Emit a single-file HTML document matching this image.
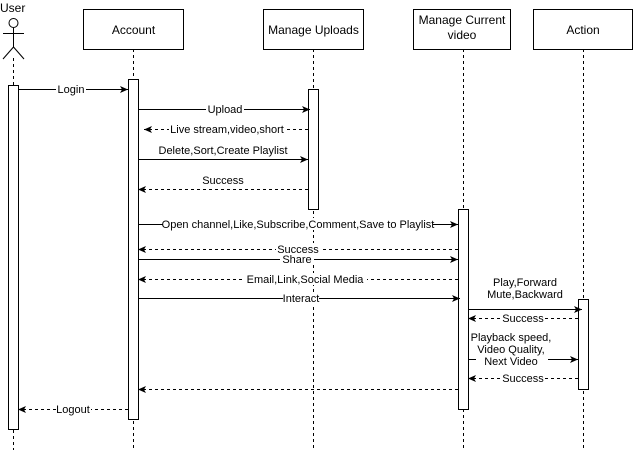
<!DOCTYPE html>
<html><head><meta charset="utf-8"><style>
html,body{margin:0;padding:0;background:#fff;}
svg{display:block;}
text{font-family:"Liberation Sans",Arial,sans-serif;fill:#000;}
.l{font-size:11px;}
.b{font-size:12px;}
</style></head><body>
<svg width="634" height="450" viewBox="0 0 634 450" xmlns="http://www.w3.org/2000/svg">
<defs>
<marker id="a" markerWidth="10" markerHeight="8" refX="8" refY="4" orient="auto" markerUnits="userSpaceOnUse">
<path d="M0,0.5 L8,4 L0,7.5 L2,4 z" fill="#000"/>
</marker>
</defs>
<g stroke="#000" stroke-dasharray="3,3" stroke-width="1">
<line x1="13.5" y1="58" x2="13.5" y2="450"/>
<line x1="133.5" y1="49" x2="133.5" y2="450"/>
<line x1="313.5" y1="49" x2="313.5" y2="450"/>
<line x1="463.5" y1="49" x2="463.5" y2="450"/>
<line x1="583.5" y1="49" x2="583.5" y2="450"/>
</g>
<text x="0" y="12" class="b">User</text>
<g stroke="#000" fill="none">
<circle cx="13.5" cy="23" r="4.5" fill="#fff"/>
<line x1="3" y1="33.5" x2="24" y2="33.5"/>
<line x1="13.5" y1="28" x2="13.5" y2="47"/>
<line x1="13.5" y1="47" x2="3" y2="59"/>
<line x1="13.5" y1="47" x2="24" y2="59"/>
</g>
<g stroke="#000" fill="#fff">
<rect x="83.5" y="9.5" width="100" height="40"/>
<rect x="263.5" y="9.5" width="100" height="40"/>
<rect x="413.5" y="9.5" width="97" height="40"/>
<rect x="533.5" y="9.5" width="99" height="40"/>
</g>
<text x="133.5" y="34" class="b" text-anchor="middle">Account</text>
<text x="313.5" y="34" class="b" text-anchor="middle">Manage Uploads</text>
<text x="462" y="24" class="b" text-anchor="middle">Manage Current</text>
<text x="462" y="39" class="b" text-anchor="middle">video</text>
<text x="583" y="34" class="b" text-anchor="middle">Action</text>
<g stroke="#000" fill="#fff">
<rect x="8.5" y="85.5" width="10" height="344"/>
<rect x="128.5" y="79.5" width="10" height="340"/>
<rect x="308.5" y="89.5" width="10" height="120"/>
<rect x="458.5" y="209.5" width="10" height="200"/>
<rect x="578.5" y="299.5" width="10" height="90"/>
</g>
<g stroke="#000" fill="none" stroke-width="1">
<line x1="18" y1="89.5" x2="128" y2="89.5" marker-end="url(#a)"/>
<line x1="138" y1="109.5" x2="310" y2="109.5" marker-end="url(#a)"/>
<line x1="308" y1="129.5" x2="144" y2="129.5" stroke-dasharray="3,3" marker-end="url(#a)"/>
<line x1="138" y1="159.5" x2="308" y2="159.5" marker-end="url(#a)"/>
<line x1="308" y1="189.5" x2="138" y2="189.5" stroke-dasharray="3,3" marker-end="url(#a)"/>
<line x1="138" y1="224.5" x2="458" y2="224.5" marker-end="url(#a)"/>
<line x1="458" y1="249.5" x2="138" y2="249.5" stroke-dasharray="3,3" marker-end="url(#a)"/>
<line x1="138" y1="259.5" x2="458" y2="259.5" marker-end="url(#a)"/>
<line x1="458" y1="279.5" x2="138" y2="279.5" stroke-dasharray="3,3" marker-end="url(#a)"/>
<line x1="138" y1="298.5" x2="460" y2="298.5" marker-end="url(#a)"/>
<line x1="468" y1="309.5" x2="582" y2="309.5" marker-end="url(#a)"/>
<line x1="578" y1="318.5" x2="468" y2="318.5" stroke-dasharray="3,3" marker-end="url(#a)"/>
<line x1="468" y1="359.5" x2="476" y2="359.5"/>
<line x1="548" y1="359.5" x2="578" y2="359.5" marker-end="url(#a)"/>
<line x1="578" y1="378.5" x2="468" y2="378.5" stroke-dasharray="3,3" marker-end="url(#a)"/>
<line x1="458" y1="389.5" x2="138" y2="389.5" stroke-dasharray="3,3" marker-end="url(#a)"/>
<line x1="128" y1="409.5" x2="18" y2="409.5" stroke-dasharray="3,3" marker-end="url(#a)"/>
</g>
<g fill="#fff">
<rect x="56" y="83" width="30" height="12"/>
<rect x="206" y="103" width="38" height="12"/>
<rect x="169" y="123" width="116" height="12"/>
<rect x="163" y="218" width="270" height="12"/>
<rect x="276" y="243" width="44" height="12"/>
<rect x="280" y="253" width="34" height="12"/>
<rect x="244" y="273" width="123" height="12"/>
<rect x="283" y="292" width="36" height="12"/>
<rect x="503" y="312" width="42" height="12"/>
<rect x="503" y="372" width="42" height="12"/>
<rect x="56" y="403" width="35" height="12"/>
</g>
<g class="l" text-anchor="middle">
<text x="71" y="93">Login</text>
<text x="225" y="113">Upload</text>
<text x="227" y="133">Live stream,video,short</text>
<text x="223" y="154">Delete,Sort,Create Playlist</text>
<text x="223" y="184">Success</text>
<text x="298" y="228">Open channel,Like,Subscribe,Comment,Save to Playlist</text>
<text x="298" y="253">Success</text>
<text x="297" y="263">Share</text>
<text x="305" y="283">Email,Link,Social Media</text>
<text x="301" y="302">Interact</text>
<text x="525" y="286">Play,Forward</text>
<text x="525" y="298">Mute,Backward</text>
<text x="523" y="322">Success</text>
<text x="511" y="341">Playback speed,</text>
<text x="511" y="353">Video Quality,</text>
<text x="511" y="365">Next Video</text>
<text x="523" y="382">Success</text>
<text x="73" y="413">Logout</text>
</g>
</svg>
</body></html>
